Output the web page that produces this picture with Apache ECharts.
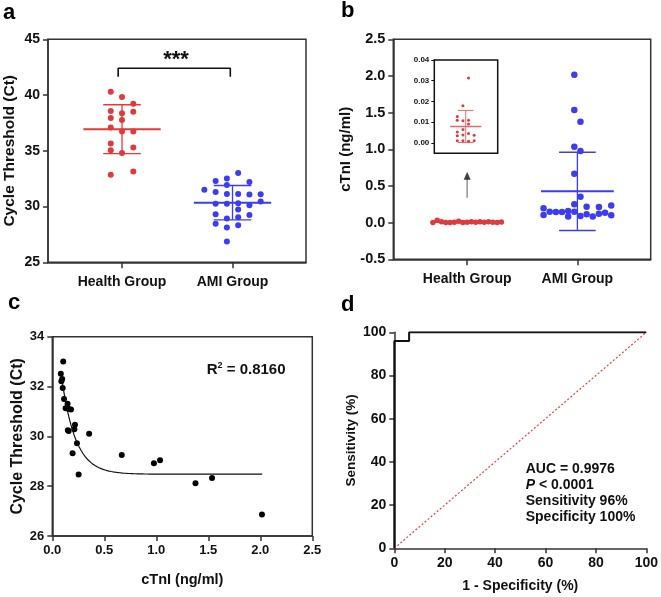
<!DOCTYPE html>
<html><head><meta charset="utf-8">
<script src="https://cdn.jsdelivr.net/npm/echarts@6/dist/echarts.min.js"></script>
<style>html,body{margin:0;padding:0;background:#fff}#c{width:661px;height:597px}</style>
</head><body><div id="c"></div>
<script>
// ---------- data ----------
const categories = ['Health Group', 'AMI Group'];

// Panel a: Cycle threshold (Ct)
const healthCt    = [40.3, 39.82, 39.22, 38.56, 38.36, 38.5, 37.94, 37.76, 37.1, 36.74, 36.74, 35.66, 35.06, 35.3, 34.8, 32.86, 33.15];
const healthCtCol = [-1, 0, 1, -1, 0, 1, -1, 0, -1, 0, 1, -1, -1, 1, 0, -1, 1];
const amiCt    = [33.0, 32.51, 32.3, 32.21, 31.94, 31.5, 31.31, 31.13, 31.13, 31.08, 31.1, 30.45, 30.24, 30.24, 30.3, 30.12, 29.73, 29.31, 29.25, 29.04, 28.92, 28.45, 28.33, 28.12, 26.86];
const amiCtCol = [0.5, -0.5, -1.5, 1.5, -0.5, -2.5, -1.5, -0.5, 0.5, 1.5, 2.5, 2.5, -1.5, -0.5, 0.5, 1.5, 0.5, -1.5, 1.5, 0.5, -0.5, -1.5, 0.5, -0.5, -0.5];

// Panel b: cTnI (ng/ml)
const healthTnI         = [0.0313, 0.0179, 0.0128, 0.0109, 0.0107, 0.0109, 0.0091, 0.0065, 0.0053, 0.0035, 0.0038, 0.0045, 0.0037, 0.0010, 0.0011, 0.0008, 0.0011];
const healthTnIInsetCol = [0.5, -0.5, -1.5, -1.5, -0.5, 0.5, 0.5, -0.5, -1.5, -1.5, -0.5, 0.5, 1.5, -1.5, -0.5, 0.5, 1.5];
const healthTnIMainCol  = [-7, -2, 3, -6, 5, 1, 8, -3, 6, -5, 0, 2, 4, -8, -1, 7, -4];
const amiTnI    = [2.018, 1.536, 1.377, 1.036, 0.977, 0.668, 0.354, 0.25, 0.195, 0.218, 0.214, 0.232, 0.15, 0.146, 0.146, 0.159, 0.15, 0.105, 0.082, 0.091, 0.113, 0.082, 0.122, 0.136, 0.1];
const amiTnICol = [-0.5, -0.5, 0.5, -0.5, 0.5, -0.5, 0.5, -0.5, -5.5, 1.5, 3.5, 5.5, -4.5, -3.5, -2.5, -1.5, -0.5, -5.5, -1.5, 0.5, 1.5, 2.5, 3.5, 4.5, 5.5];
const insetTicks = [0, 0.01, 0.02, 0.03, 0.04];

// Panel c: Ct vs cTnI (AMI group)
const corrTnI = [0.105, 0.082, 0.095, 0.087, 0.1, 0.113, 0.147, 0.128, 0.14, 0.18, 0.16, 0.218, 0.212, 0.15, 0.157, 0.354, 0.237, 0.195, 0.668, 1.036, 0.977, 0.253, 1.536, 1.377, 2.016];
const corrCt  = [33.0, 32.51, 32.3, 32.21, 31.94, 31.5, 31.31, 31.13, 31.13, 31.08, 31.1, 30.47, 30.28, 30.24, 30.21, 30.1, 29.72, 29.32, 29.25, 29.04, 28.92, 28.47, 28.33, 28.12, 26.86];
// one-phase decay fit
const fitPlateau = 28.48, fitSpan = 7.6, fitK = 7.5, fitXmin = 0.082, fitXmax = 2.018;

// Panel d: ROC
const rocFpr = [0, 0, 5.88, 5.88, 100];
const rocTpr = [0, 96, 96, 100, 100];

// ---------- helpers ----------
const FONT = '"Liberation Sans", Arial, Helvetica, sans-serif';
const RED = '#e03a3a', BLUE = '#3c3cf2', AX = '#333';
const A_STEP = 0.102, B_AMI_STEP = 0.0558, B_H_STEP = 0.0388;

function stats(arr) {
  const n = arr.length, m = arr.reduce((a, b) => a + b, 0) / n;
  const sd = Math.sqrt(arr.reduce((a, b) => a + (b - m) * (b - m), 0) / (n - 1));
  return { m, sd };
}
function seg(ai, pts, color, width, extra) {
  return Object.assign({
    type: 'line', xAxisIndex: ai, yAxisIndex: ai, data: pts, symbol: 'none',
    lineStyle: { color, width }, silent: true, animation: false, z: 5
  }, extra || {});
}
function errorBars(ai, c, st, color, meanHalf, capHalf, meanW, barW, z) {
  const lo = st.m - st.sd, hi = st.m + st.sd;
  const ex = z ? { z } : undefined;
  return [
    seg(ai, [[c, lo], [c, hi]], color, barW, ex),
    seg(ai, [[c - capHalf, hi], [c + capHalf, hi]], color, barW, ex),
    seg(ai, [[c - capHalf, lo], [c + capHalf, lo]], color, barW, ex),
    seg(ai, [[c - meanHalf, st.m], [c + meanHalf, st.m]], color, meanW, ex)
  ];
}
function scatter(ai, data, color, size, z) {
  return { type: 'scatter', xAxisIndex: ai, yAxisIndex: ai, data, symbolSize: size,
    itemStyle: { color, opacity: 1 }, silent: true, animation: false, z: z || 3 };
}
const axLine = { onZero: false, lineStyle: { color: AX, width: 1.5 } };
const axTick = { length: 5, lineStyle: { color: AX, width: 1.5 } };
function lab(size, extra) {
  return Object.assign({ fontSize: size, fontWeight: 'bold', color: '#111', fontFamily: FONT, margin: 8 }, extra || {});
}
function nameStyle(size) { return { fontSize: size, fontWeight: 'bold', color: '#111', fontFamily: FONT }; }

// ---------- derived ----------
const sHealthCt = stats(healthCt), sAmiCt = stats(amiCt);
const sHealthTnI = stats(healthTnI), sAmiTnI = stats(amiTnI);
const fitCurve = [];
for (let i = 0; i <= 200; i++) {
  const x = fitXmin + (fitXmax - fitXmin) * i / 200;
  fitCurve.push([x, fitPlateau + fitSpan * Math.exp(-fitK * x)]);
}

const groupX = (ai) => ({
  gridIndex: ai, type: 'value', min: 0.33, max: 2.665,
  axisLine: axLine, splitLine: { show: false },
  axisTick: { length: 6, lineStyle: { color: AX, width: 1.5 }, customValues: [1, 2] },
  axisLabel: lab(14, { margin: 13, customValues: [1, 2], formatter: v => categories[Math.round(v) - 1] })
});

const option = {
  animation: false,
  textStyle: { fontFamily: FONT },
  grid: [
    { left: 48, top: 39.3, width: 258, height: 223, show: true, borderColor: AX, borderWidth: 1.5 },
    { left: 393.3, top: 39.3, width: 257.4, height: 220, show: true, borderColor: AX, borderWidth: 1.5 },
    { left: 52.3, top: 336.7, width: 260, height: 199.3, show: true, borderColor: AX, borderWidth: 1.5 },
    { left: 394.3, top: 332.3, width: 253.4, height: 216 },
    { left: 434.3, top: 60, width: 63.4, height: 93.3, show: true, borderColor: '#111', borderWidth: 1.5, backgroundColor: '#fff', z: 4 }
  ],
  xAxis: [
    groupX(0),
    groupX(1),
    { gridIndex: 2, type: 'value', min: 0, max: 2.5, interval: 0.5, axisLine: axLine, axisTick: axTick,
      splitLine: { show: false }, axisLabel: lab(13, { formatter: v => v.toFixed(1) }),
      name: 'cTnI (ng/ml)', nameLocation: 'middle', nameGap: 36, nameTextStyle: nameStyle(14.5) },
    { gridIndex: 3, type: 'value', min: 0, max: 100, interval: 20, axisLine: axLine, axisTick: axTick,
      splitLine: { show: false }, axisLabel: lab(14),
      name: '1 - Specificity (%)', nameLocation: 'middle', nameGap: 31, nameTextStyle: nameStyle(14) },
    { gridIndex: 4, type: 'value', min: -5.6, max: 5.7, axisLine: { show: false }, axisTick: { show: false },
      axisLabel: { show: false }, splitLine: { show: false } }
  ],
  yAxis: [
    { gridIndex: 0, type: 'value', min: 25, max: 45, interval: 5, axisLine: axLine, axisTick: axTick,
      splitLine: { show: false }, axisLabel: lab(14),
      name: 'Cycle Threshold (Ct)', nameLocation: 'middle', nameRotate: 90, nameGap: 30, nameTextStyle: nameStyle(15.5) },
    { gridIndex: 1, type: 'value', min: -0.5, max: 2.5, interval: 0.5, axisLine: axLine, axisTick: axTick,
      splitLine: { show: false }, axisLabel: lab(14.5, { formatter: v => v.toFixed(1) }),
      name: 'cTnI (ng/ml)', nameLocation: 'middle', nameRotate: 90, nameGap: 40, nameTextStyle: nameStyle(15) },
    { gridIndex: 2, type: 'value', min: 26, max: 34, interval: 2, axisLine: axLine, axisTick: axTick,
      splitLine: { show: false }, axisLabel: lab(13),
      name: 'Cycle Threshold (Ct)', nameLocation: 'middle', nameRotate: 90, nameGap: 27, nameTextStyle: nameStyle(16) },
    { gridIndex: 3, type: 'value', min: 0, max: 100, interval: 20, axisLine: axLine, axisTick: axTick,
      splitLine: { show: false }, axisLabel: lab(14),
      name: 'Sensitivity (%)', nameLocation: 'middle', nameRotate: 90, nameGap: 36, nameTextStyle: nameStyle(13.5) },
    { gridIndex: 4, type: 'value', min: -0.005, max: 0.04, axisLine: { onZero: false, lineStyle: { color: '#111', width: 1.5 } },
      axisTick: { length: 3, lineStyle: { color: '#111', width: 1 }, customValues: insetTicks },
      splitLine: { show: false },
      axisLabel: lab(8, { margin: 5, customValues: insetTicks, formatter: v => v.toFixed(2) }) }
  ],
  series: [
    // panel a
    scatter(0, healthCt.map((v, i) => [1 + healthCtCol[i] * A_STEP, v]), RED, 6),
    scatter(0, amiCt.map((v, i) => [2 + amiCtCol[i] * A_STEP, v]), BLUE, 6),
    ...errorBars(0, 1, sHealthCt, RED, 0.35, 0.17, 2, 1.3),
    ...errorBars(0, 2, sAmiCt, BLUE, 0.35, 0.17, 2, 1.3),
    seg(0, [[0.965, 41.65], [0.965, 42.4], [1.98, 42.4], [1.98, 41.65]], '#111', 1.6),
    // panel b
    scatter(1, healthTnI.map((v, i) => [1 + healthTnIMainCol[i] * B_H_STEP, v]), RED, 5.5),
    scatter(1, amiTnI.map((v, i) => [2 + amiTnICol[i] * B_AMI_STEP, v]), BLUE, 6.5),
    ...errorBars(1, 1, sHealthTnI, RED, 0.33, 0.17, 2, 1.3),
    ...errorBars(1, 2, sAmiTnI, BLUE, 0.33, 0.166, 2, 1.3),
    seg(1, [[1, 0.34], [1, 0.61]], '#9a9a9a', 1.6),
    { type: 'scatter', xAxisIndex: 1, yAxisIndex: 1, data: [[1, 0.64]], symbol: 'triangle', symbolSize: [7, 8],
      itemStyle: { color: '#111' }, silent: true, animation: false, z: 6 },
    // inset
    scatter(4, healthTnI.map((v, i) => [healthTnIInsetCol[i], v]), RED, 3, 12),
    ...errorBars(4, 0, sHealthTnI, '#e86a6a', 2.77, 1.4, 1.5, 1, 11),
    // panel c
    scatter(2, corrTnI.map((v, i) => [v, corrCt[i]]), '#000', 6),
    seg(2, fitCurve, '#111', 1.2),
    // panel d
    seg(3, [[0, 0], [100, 100]], '#e8403a', 1.2, { lineStyle: { color: '#e8403a', width: 1.2, type: [2, 2] } }),
    seg(3, rocFpr.map((x, i) => [x, rocTpr[i]]), '#111', 2)
  ],
  graphic: [
    { type: 'text', left: 3, top: 2, style: { text: 'a', font: 'bold 22px ' + FONT, fill: '#000' } },
    { type: 'text', left: 341, top: 0, style: { text: 'b', font: 'bold 22px ' + FONT, fill: '#000' } },
    { type: 'text', left: 8, top: 292, style: { text: 'c', font: 'bold 22px ' + FONT, fill: '#000' } },
    { type: 'text', left: 341, top: 294, style: { text: 'd', font: 'bold 22px ' + FONT, fill: '#000' } },
    { type: 'text', x: 176, y: 60, style: { text: '***', font: 'bold 22px ' + FONT, fill: '#111', align: 'center', verticalAlign: 'middle' } },
    { type: 'text', x: 206.7, y: 370, style: {
        text: '{a|R}{s|2}{a| = 0.8160}', verticalAlign: 'middle', fill: '#111',
        rich: { a: { fontSize: 15, fontWeight: 'bold', fontFamily: FONT, fill: '#111' },
                s: { fontSize: 9, fontWeight: 'bold', fontFamily: FONT, fill: '#111', padding: [0, 0, 8, 0] } } } },
    { type: 'text', x: 525.7, y: 469, style: { text: 'AUC = 0.9976', font: 'bold 14px ' + FONT, fill: '#111', verticalAlign: 'middle' } },
    { type: 'text', x: 525.7, y: 485, style: {
        text: '{i|P}{n| < 0.0001}', verticalAlign: 'middle', fill: '#111',
        rich: { i: { fontSize: 14, fontWeight: 'bold', fontStyle: 'italic', fontFamily: FONT, fill: '#111' },
                n: { fontSize: 14, fontWeight: 'bold', fontFamily: FONT, fill: '#111' } } } },
    { type: 'text', x: 525.7, y: 501, style: { text: 'Sensitivity 96%', font: 'bold 14px ' + FONT, fill: '#111', verticalAlign: 'middle' } },
    { type: 'text', x: 525.7, y: 517, style: { text: 'Specificity 100%', font: 'bold 14px ' + FONT, fill: '#111', verticalAlign: 'middle' } }
  ]
};
const chart = echarts.init(document.getElementById('c'), null, { renderer: 'canvas' });
chart.setOption(option);
</script></body></html>
